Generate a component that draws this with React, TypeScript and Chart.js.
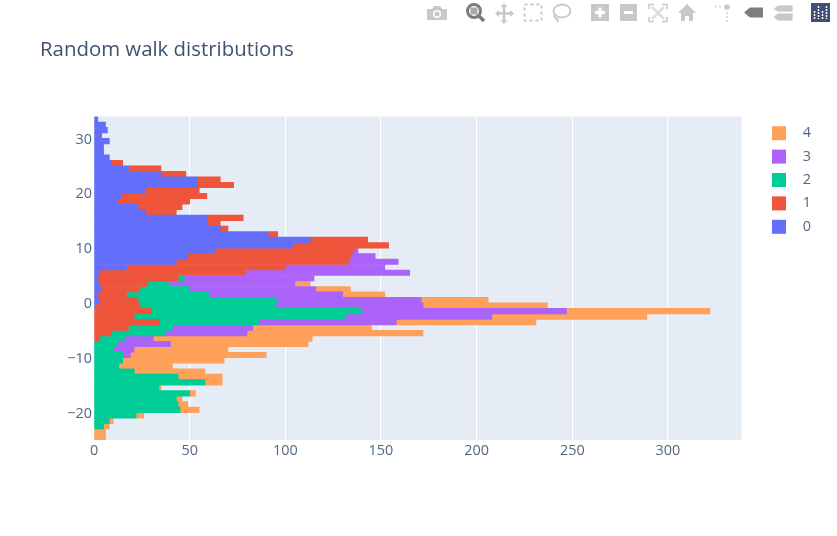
import React, { useEffect, useRef } from 'react';
import { Chart, registerables } from 'chart.js';

Chart.register(...registerables);

// one bin per unit, top of the plot to the bottom
const binCenters = [
  33.5, 32.5, 31.5, 30.5, 29.5, 28.5, 27.5, 26.5, 25.5, 24.5, 23.5, 22.5, 21.5, 20.5, 19.5,
  18.5, 17.5, 16.5, 15.5, 14.5, 13.5, 12.5, 11.5, 10.5, 9.5, 8.5, 7.5, 6.5, 5.5, 4.5,
  3.5, 2.5, 1.5, 0.5, -0.5, -1.5, -2.5, -3.5, -4.5, -5.5, -6.5, -7.5, -8.5, -9.5, -10.5,
  -11.5, -12.5, -13.5, -14.5, -15.5, -16.5, -17.5, -18.5, -19.5, -20.5, -21.5, -22.5, -23.5, -24.5,
];

const walk0 = [
  2, 6, 7, 4, 8, 5, 5, 8, 9, 18, 35, 54, 54, 27, 14,
  12, 23, 27, 59, 59, 66, 91, 113, 104, 63, 49, 43, 17, 3, 2,
  3, 4, 2, 3, 1, 0, 0, 0, 0, 0, 0, 0, 0, 0, 0,
  0, 0, 0, 0, 0, 0, 0, 0, 0, 0, 0, 0, 0, 0,
];
const walk1 = [
  0, 0, 0, 0, 0, 0, 0, 0, 6, 17, 13, 12, 19, 28, 45,
  38, 23, 16, 19, 7, 4, 5, 30, 50, 73, 85, 90, 83, 76, 42,
  25, 20, 15, 20, 23, 30, 21, 34, 18, 9, 3, 0, 0, 0, 0,
  0, 0, 0, 0, 0, 0, 0, 0, 0, 0, 0, 0, 0, 0,
];
const walk2 = [
  0, 0, 0, 0, 0, 0, 0, 0, 0, 0, 0, 0, 0, 0, 0,
  0, 0, 0, 0, 0, 0, 0, 0, 0, 0, 0, 0, 0, 0, 3,
  11, 26, 43, 73, 71, 110, 110, 52, 23, 28, 13, 12, 10, 15, 15,
  13, 21, 44, 58, 34, 50, 43, 44, 45, 22, 8, 5, 0, 0,
];
const walk3 = [
  0, 0, 0, 0, 0, 0, 0, 0, 0, 0, 0, 0, 0, 0, 0,
  0, 0, 0, 0, 0, 0, 0, 0, 0, 2, 13, 26, 52, 86, 68,
  66, 66, 70, 75, 77, 107, 77, 72, 42, 43, 15, 28, 11, 4, 0,
  0, 0, 0, 0, 0, 0, 0, 0, 0, 0, 0, 0, 0, 0,
];
const walk4 = [
  0, 0, 0, 0, 0, 0, 0, 0, 0, 0, 0, 0, 0, 0, 0,
  0, 0, 0, 0, 0, 0, 0, 0, 0, 0, 0, 0, 0, 0, 0,
  8, 18, 22, 35, 65, 75, 81, 73, 62, 92, 83, 72, 49, 71, 53,
  28, 37, 23, 9, 1, 3, 3, 5, 10, 4, 2, 3, 6, 6,
];

const seriesNames = ['0', '1', '2', '3', '4'];
const seriesValues = [walk0, walk1, walk2, walk3, walk4];
const seriesColors = ['#636EFA', '#EF553B', '#00CC96', '#AB63FA', '#FFA15A'];

const xTicks = [0, 50, 100, 150, 200, 250, 300];
const yTicks = [-20, -10, 0, 10, 20, 30];

const fontFamily = '"Open Sans", sans-serif';
const titleColor = '#3f5272';
const textColor = '#506784';
const iconGray = '#c8c8c8';
const iconDark = '#7d7d7d';

// plotly style toolbar along the top right
const ModeBar: React.FC = () => (
  <svg width={837} height={30} style={{ position: 'absolute', left: 0, top: 0 }}>
    {/* camera */}
    <path d="M427 9h5l2-3h6l2 3h5v11h-20z" fill={iconGray} />
    <circle cx={437} cy={14} r={4} fill="#fff" />
    <circle cx={437} cy={14} r={2.5} fill={iconGray} />
    {/* zoom */}
    <circle cx={474} cy={11} r={6.5} fill="none" stroke={iconDark} strokeWidth={3} />
    <rect x={470.5} y={7.5} width={7} height={7} fill="#a8a8a8" />
    <path d="M479 16l5 5" stroke={iconDark} strokeWidth={3.5} />
    {/* pan */}
    <path d="M504 5v17M496 13.500h17" stroke={iconGray} strokeWidth={2.500} />
    <path d="M504 3l3.500 4h-7zM504 24l3.500-4h-7zM495 13.500l4-3.500v7zM514 13.500l-4-3.500v7z" fill={iconGray} />
    {/* box select */}
    <rect x={524.500} y={4.500} width={17} height={16} fill="none" stroke={iconGray} strokeWidth={2} strokeDasharray="3 3" />
    {/* lasso */}
    <ellipse cx={562} cy={11} rx={8.500} ry={6.500} fill="none" stroke={iconGray} strokeWidth={1.800} />
    <path d="M555 15c-1 3 1 4 2 4s1 2 0 3" fill="none" stroke={iconGray} strokeWidth={1.800} />
    {/* zoom in */}
    <rect x={591} y={4} width={18} height={17} fill={iconGray} />
    <path d="M600 7.500v10M595 12.500h10" stroke="#fff" strokeWidth={3} />
    {/* zoom out */}
    <rect x={620} y={4} width={17} height={17} fill={iconGray} />
    <path d="M624 12.500h9" stroke="#fff" strokeWidth={3} />
    {/* autoscale */}
    <path d="M649 9V4.500h5M662 4.500h5V9M667 17v4.500h-5M654 21.500h-5V17" fill="none" stroke={iconGray} strokeWidth={1.500} />
    <path d="M652 7l12 12M664 7l-12 12" stroke="#ddd" strokeWidth={2.500} />
    {/* home */}
    <path d="M678 13l9-9 9 9h-3v8h-4v-5h-4v5h-4v-8z" fill={iconGray} />
    {/* spikes */}
    <circle cx={727} cy={7} r={2.800} fill={iconGray} />
    <path d="M715 6.500h2M719 6.500h2M727 12v10" stroke="#dcdcdc" strokeWidth={2} strokeDasharray="2 2" fill="none" />
    {/* hover closest */}
    <path d="M744 12.500l6-5h13v10h-13z" fill={iconDark} />
    {/* hover compare */}
    <path d="M773 9l5-4h15v7h-15zM773 17l5-4h15v8h-15z" fill={iconGray} stroke="#fff" strokeWidth={0.800} />
    {/* logo */}
    <rect x={811} y={3} width={19} height={19} fill="#3f4f75" />
    <path d="M814.500 11v8M818.500 6v13M822.500 11v8M826.500 6v13" stroke="#fff" strokeWidth={1.500} strokeDasharray="2 1" />
  </svg>
);

const App: React.FC = () => {
  const canvasRef = useRef<HTMLCanvasElement>(null);

  useEffect(() => {
    if (!canvasRef.current) return;
    const chart = new Chart(canvasRef.current, {
      type: 'bar',
      data: {
        datasets: seriesNames.map((name, s) => ({
          label: name,
          data: binCenters
            .map((y, i) => ({ x: seriesValues[s][i], y }))
            .filter((p) => p.x > 0),
          backgroundColor: seriesColors[s],
          borderWidth: 0,
          barPercentage: 1,
          categoryPercentage: 1,
        })),
      },
      options: {
        indexAxis: 'y',
        responsive: false,
        animation: false,
        layout: { padding: { left: 40, right: 47, top: 38, bottom: 66 } },
        scales: {
          x: {
            type: 'linear',
            stacked: true,
            min: 0,
            max: 338.5,
            afterBuildTicks: (scale: any) => {
              scale.ticks = xTicks.map((value) => ({ value }));
            },
            afterFit: (scale: any) => {
              scale.height = 30;
            },
            grid: { color: '#ffffff', lineWidth: 1.2, drawTicks: false },
            border: { display: false },
            ticks: {
              color: textColor,
              font: { family: fontFamily, size: 14.4 },
              padding: 2,
              maxRotation: 0,
            },
          },
          y: {
            type: 'linear',
            stacked: true,
            offset: false,
            min: -25,
            max: 34,
            afterBuildTicks: (scale: any) => {
              scale.ticks = yTicks.map((value) => ({ value }));
            },
            afterFit: (scale: any) => {
              scale.width = 54;
            },
            grid: { display: false, drawTicks: false },
            border: { display: false },
            ticks: {
              color: textColor,
              font: { family: fontFamily, size: 14.4 },
              padding: 2,
              labelOffset: 1,
              callback: (v: any) => String(v).replace('-', '\u2212'),
            },
          },
        },
        plugins: {
          title: {
            display: true,
            text: 'Random walk distributions',
            align: 'start',
            color: titleColor,
            font: { family: fontFamily, size: 20.4, weight: 'normal' },
            padding: { top: 0, bottom: 54 },
          },
          legend: {
            position: 'right',
            align: 'start',
            reverse: true,
            labels: {
              boxWidth: 14,
              boxHeight: 14,
              padding: 9,
              textAlign: 'right',
              color: textColor,
              font: { family: fontFamily, size: 14.4 },
            },
          },
          tooltip: { enabled: false },
        },
      },
      plugins: [
        {
          id: 'plotBackground',
          beforeDraw: (c: any) => {
            const { ctx, chartArea: a } = c;
            ctx.save();
            ctx.fillStyle = '#E5ECF6';
            ctx.fillRect(a.left, a.top, a.right - a.left, a.bottom - a.top);
            ctx.restore();
            // legend sits beside the plot top, not under the title
            c.legend.left = 763;
            c.legend.right = 811;
            c.legend.top = 117;
            c.legend.bottom = 536;
          },
        },
      ],
    });
    return () => chart.destroy();
  }, []);

  return (
    <div style={{ position: 'absolute', left: 0, top: 0, width: 837, height: 536, background: '#fff' }}>
      <canvas ref={canvasRef} width={837} height={536} aria-label="Random walk distributions" />
      <ModeBar />
    </div>
  );
};

export default App;
